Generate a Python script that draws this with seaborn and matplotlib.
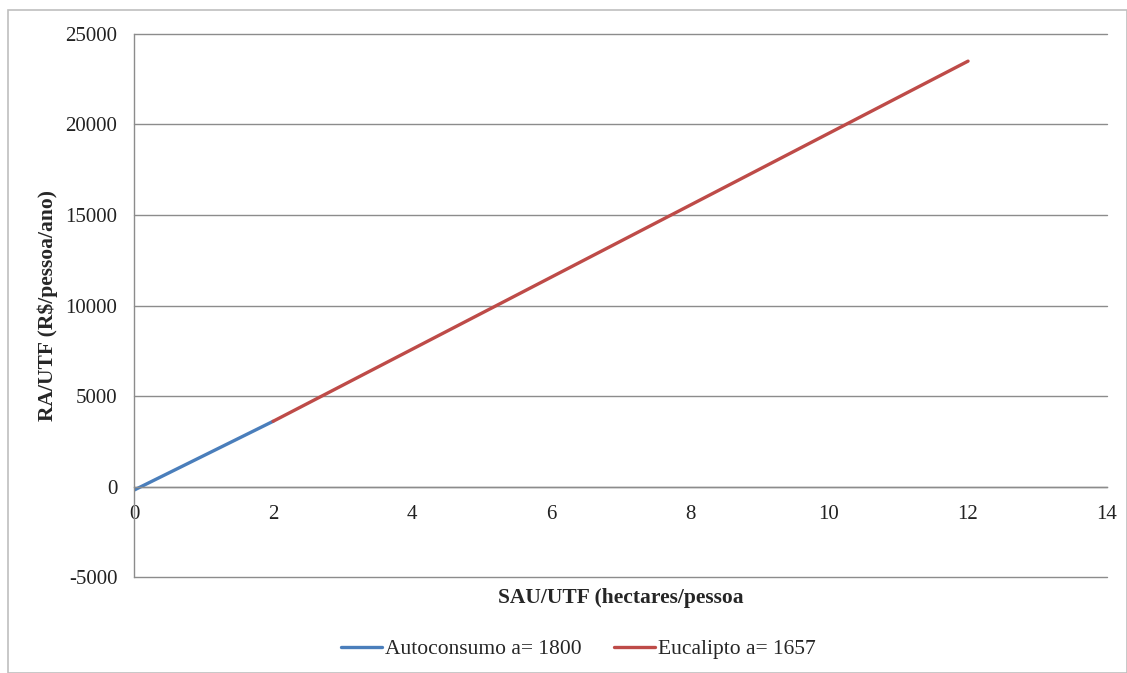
import matplotlib
matplotlib.use("Agg")
import matplotlib.pyplot as plt
import seaborn as sns
import pandas as pd
from matplotlib.patches import Rectangle

series_names = ["Autoconsumo a= 1800", "Eucalipto a= 1657"]
auto_x = [0, 2]
auto_y = [-200, 3600]
euca_x = [2, 12]
euca_y = [3600, 23500]
x_ticks = [0, 2, 4, 6, 8, 10, 12, 14]
y_ticks = [-5000, 0, 5000, 10000, 15000, 20000, 25000]
colors = ["#4a7ebb", "#be4b48"]

df = pd.DataFrame({
    "x": auto_x + euca_x,
    "y": auto_y + euca_y,
    "serie": [series_names[0]] * len(auto_x) + [series_names[1]] * len(euca_x),
})

sns.set_style("white")
plt.rcParams["font.family"] = ["Liberation Serif", "DejaVu Serif"]
plt.rcParams["axes.unicode_minus"] = False

fig = plt.figure(figsize=(11.27, 6.73), dpi=100)
ax = fig.add_axes([0.1189, 0.1426, 0.8634, 0.8069])

sns.lineplot(data=df, x="x", y="y", hue="serie", palette=colors, linewidth=2.4,
             ax=ax, legend=True, sort=False)

ax.set_xlim(0, 14)
ax.set_ylim(-5000, 25000)
ax.set_xticks(x_ticks)
ax.set_yticks(y_ticks)
ax.yaxis.grid(True, color="#8c8c8c", linewidth=1.0)
for gl in ax.get_ygridlines():
    gl.set_clip_on(False)
ax.set_axisbelow(True)
for s in ["top", "right"]:
    ax.spines[s].set_visible(False)
ax.spines["left"].set_color("#8c8c8c")
ax.spines["left"].set_linewidth(1.0)
ax.tick_params(axis="both", length=0, labelsize=15, colors="#222222")
ax.tick_params(axis="x", pad=13)
ax.tick_params(axis="y", pad=12)
ax.spines["bottom"].set_position(("data", 0))
ax.spines["bottom"].set_color("#8c8c8c")
ax.spines["bottom"].set_linewidth(1.0)

ax.set_xlabel("SAU/UTF (hectares/pessoa", fontsize=15.5, fontweight="bold")
ax.xaxis.set_label_coords(0.50, -0.021)
ax.set_ylabel("RA/UTF (R$/pessoa/ano)", fontsize=15.5, fontweight="bold")
ax.yaxis.set_label_coords(-0.078, 0.5)

handles, labels = ax.get_legend_handles_labels()
ax.legend(handles, labels, loc="center", bbox_to_anchor=(0.513, 0.035),
          bbox_transform=fig.transFigure, ncol=2, frameon=False,
          fontsize=15.5, handlelength=1.9, handletextpad=0.15, columnspacing=1.5)

fig.patches.append(Rectangle((0.007, 0.0), 0.993, 0.985, transform=fig.transFigure,
                             fill=False, edgecolor="#bfbfbf", linewidth=1.2))

fig.savefig("out.png", dpi=100)
